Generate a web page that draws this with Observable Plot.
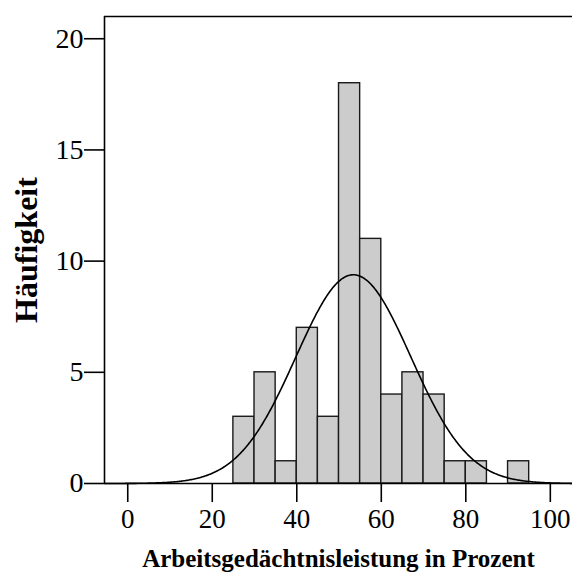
<!DOCTYPE html>
<html>
<head>
<meta charset="utf-8">
<script src="https://cdn.jsdelivr.net/npm/d3@7"></script>
<script src="https://cdn.jsdelivr.net/npm/@observablehq/plot@0.6"></script>
<style>
  html, body { margin: 0; padding: 0; background: #fff; }
  #chart svg { display: block; font-family: "Liberation Serif", "Times New Roman", serif; }
  g[aria-label="y-axis label"] text { font-size: 32px; font-weight: bold; }
  g[aria-label="x-axis label"] text { font-size: 25px; font-weight: bold; }
</style>
</head>
<body>
<div id="chart"></div>
<script>
// Histogram bins (lower edges), bin width and counts
const binStarts = [25, 30, 35, 40, 45, 50, 55, 60, 65, 70, 75, 80, 85, 90];
const binWidth = 5;
const counts = [3, 5, 1, 7, 3, 18, 11, 4, 5, 4, 1, 1, 0, 1];
// Fitted normal curve parameters
const fitMean = 53.4;
const fitSd = 13.6;
// Axis ticks and domains
const xTicks = [0, 20, 40, 60, 80, 100];
const yTicks = [0, 5, 10, 15, 20];
const xDomain = [-5.5, 105.25];
const yDomain = [0, 21];
const xTitle = "Arbeitsgedächtnisleistung in Prozent";
const yTitle = "Häufigkeit";

const bins = binStarts.map((b, i) => ({x1: b, x2: b + binWidth, count: counts[i]})).filter(d => d.count > 0);
const n = d3.sum(counts);
const curve = d3.range(xDomain[0], xDomain[1] + 0.001, 0.25).map(x => ({
  x,
  y: n * binWidth * Math.exp(-0.5 * ((x - fitMean) / fitSd) ** 2) / (fitSd * Math.sqrt(2 * Math.PI))
}));

const chart = Plot.plot({
  width: 572,
  height: 573,
  marginLeft: 104,
  marginRight: 0,
  marginTop: 16,
  marginBottom: 90,
  style: {fontFamily: '"Liberation Serif", "Times New Roman", serif', color: "#000", background: "#fff"},
  x: {domain: xDomain},
  y: {domain: yDomain},
  marks: [
    Plot.rectY(bins, {x1: "x1", x2: "x2", y: "count", fill: "#cccccc", stroke: "#1a1a1a", strokeWidth: 1.4, inset: 0}),
    Plot.line(curve, {x: "x", y: "y", stroke: "#000", strokeWidth: 1.6}),
    Plot.ruleY([yDomain[0]], {stroke: "#000", strokeWidth: 1.6}),
    Plot.ruleY([yDomain[1]], {stroke: "#000", strokeWidth: 1.6}),
    Plot.ruleX([xDomain[0]], {stroke: "#000", strokeWidth: 1.6}),
    Plot.axisX({ticks: xTicks, tickSize: 19, tickPadding: 6, fontSize: 27, strokeWidth: 1.6, label: xTitle, labelArrow: "none", labelAnchor: "center", labelOffset: 83, tickFormat: d => String(d)}),
    Plot.axisY({ticks: yTicks, tickSize: 20, tickPadding: 1, fontSize: 28, strokeWidth: 1.6, label: yTitle, labelArrow: "none", labelAnchor: "center", labelOffset: 90, tickFormat: d => String(d)})
  ]
});
document.getElementById("chart").appendChild(chart);
</script>
</body>
</html>
